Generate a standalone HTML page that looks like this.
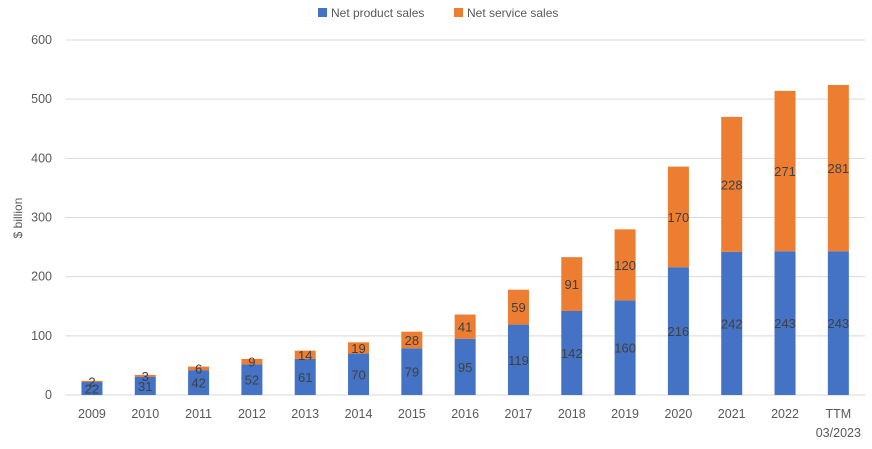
<!DOCTYPE html>
<html><head><meta charset="utf-8"><style>
body{margin:0;background:#fff;font-family:"Liberation Sans",sans-serif}
</style></head><body>
<svg width="872" height="444" xmlns="http://www.w3.org/2000/svg">
<g id="grid"></g>
<g id="bars"></g>
<g id="xl"></g>
<text transform="translate(22,218) rotate(-90)" text-anchor="middle" font-size="12" fill="#595959">$ billion</text>
<g>
<g><rect x="318" y="8" width="9" height="9" fill="#4472c4"/><text x="331" y="17" font-size="12" fill="#595959">Net product sales</text></g>
<g><rect x="454" y="8" width="9" height="9" fill="#ed7d31"/><text x="467" y="17" font-size="12" fill="#595959">Net service sales</text></g>
</g>
</svg>
<script>
const categories=["2009","2010","2011","2012","2013","2014","2015","2016","2017","2018","2019","2020","2021","2022","TTM|03/2023"];
const product=[22,31,42,52,61,70,79,95,119,142,160,216,242,243,243];
const service=[2,3,6,9,14,19,28,41,59,91,120,170,228,271,281];
const yTicks=[0,100,200,300,400,500,600];
const NS="http://www.w3.org/2000/svg";
const L=65.3,R=865,T=40,B=395,yMax=600;
const band=(R-L)/categories.length;
const x=i=>L+band*(i+0.5);
const y=v=>B-(v/yMax)*(B-T);
function mk(t,a,p){const e=document.createElementNS(NS,t);for(const k in a)e.setAttribute(k,a[k]);p.appendChild(e);return e;}
const grid=document.getElementById('grid'),bars=document.getElementById('bars'),xl=document.getElementById('xl');
yTicks.forEach(v=>{
const l=mk('line',{x1:L,x2:R,y1:y(v),y2:y(v),stroke:'#d9d9d9','stroke-width':1},grid);


const t=mk('text',{x:52,y:y(v)+4,'text-anchor':'end','font-size':12.5,fill:'#595959'},grid);
t.textContent=v;


});
const bw=21;
categories.forEach((c,i)=>{
const p=product[i],s=service[i];
const r1=mk('rect',{x:x(i)-bw/2,y:y(p),width:bw,height:y(0)-y(p),fill:'#4472c4'},bars);


const r2=mk('rect',{x:x(i)-bw/2,y:y(p+s),width:bw,height:y(p)-y(p+s),fill:'#ed7d31'},bars);


const t1=mk('text',{x:x(i),y:(y(0)+y(p))/2+5,'text-anchor':'middle','font-size':13,fill:'#404040'},bars);
t1.textContent=p;


const t2=mk('text',{x:x(i),y:(y(p)+y(p+s))/2+5,'text-anchor':'middle','font-size':13,fill:'#404040'},bars);
t2.textContent=s;


c.split('|').forEach((part,j)=>{
const t=mk('text',{x:x(i),y:418+j*19,'text-anchor':'middle','font-size':12.5,fill:'#595959'},xl);
t.textContent=part;


});
});
</script>
</body></html>
